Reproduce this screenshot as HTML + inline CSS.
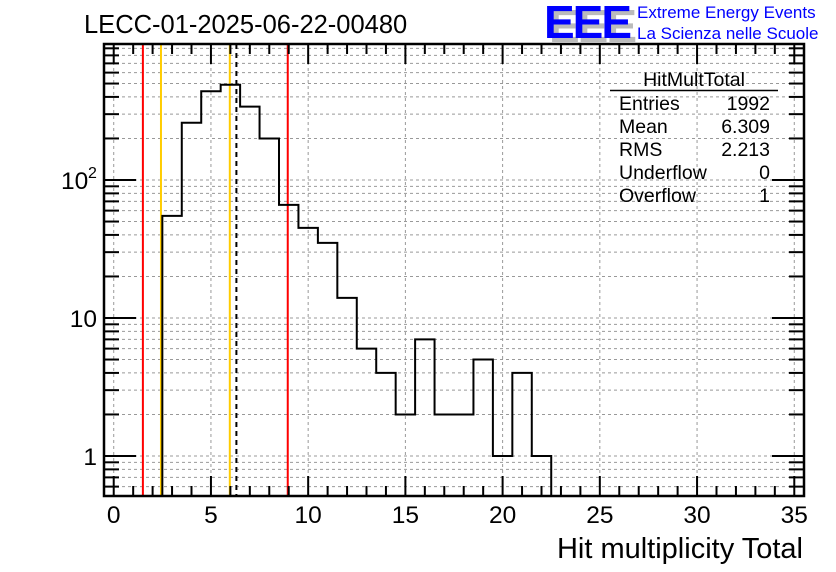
<!DOCTYPE html>
<html><head><meta charset="utf-8"><style>
body{margin:0;background:#fff;}
svg{display:block;font-family:"Liberation Sans",sans-serif;}
</style></head><body>
<svg id="c" width="836" height="572">
<g id="grid"></g>
<g id="lines"></g>
<g id="hist"></g>
<g id="axes"></g>
<text x="84" y="33" font-size="25.5">LECC-01-2025-06-22-00480</text>
<g>
<text x="549" y="42" font-size="46" font-weight="bold" fill="#bbb" letter-spacing="-2">EEE</text>
<text x="544" y="38" font-size="46" font-weight="bold" fill="#0000ff" letter-spacing="-2">EEE</text>
<text x="637" y="18" font-size="17" fill="#0000ff">Extreme Energy Events</text>
<text x="637" y="39" font-size="17" fill="#0000ff">La Scienza nelle Scuole</text>
</g>
<g font-size="19.5">
<text x="694" y="86" text-anchor="middle">HitMultTotal</text>
<line x1="610" y1="90.5" x2="778" y2="90.5" stroke="#000" stroke-width="1.5"/>
<text x="619" y="110">Entries</text><text x="770" y="110" text-anchor="end">1992</text>
<text x="619" y="133">Mean</text><text x="770" y="133" text-anchor="end">6.309</text>
<text x="619" y="156">RMS</text><text x="770" y="156" text-anchor="end">2.213</text>
<text x="619" y="179">Underflow</text><text x="770" y="179" text-anchor="end">0</text>
<text x="619" y="202">Overflow</text><text x="770" y="202" text-anchor="end">1</text>
</g>
<text x="803" y="558" font-size="29" text-anchor="end">Hit multiplicity Total</text>
</svg>
<script>
const binCenters=[3,4,5,6,7,8,9,10,11,12,13,14,15,16,17,18,19,20,21,22];
const binValues=[55,260,440,490,340,200,66,45,35,14,6,4,2,7,2,2,5,1,4,1];
const xTicks=[0,5,10,15,20,25,30,35];
const yTicks=[1,10,100];
const redLines=[1.5,8.95];
const orangeLines=[2.43,5.97];
const meanLine=[6.309];
const L=104,R=804,T=44,B=496;
const X0=-0.5,X1=35.5;
const Y1=456,DEC=138;
function xs(v){return L+(v-X0)/(X1-X0)*(R-L);}
function ys(v){return Y1-Math.log10(v)*DEC;}
const NS="http://www.w3.org/2000/svg";
function mk(p,t,a){const e=document.createElementNS(NS,t);for(const k in a)e.setAttribute(k,a[k]);p.appendChild(e);return e;}
const grid=document.getElementById('grid'),axes=document.getElementById('axes'),lines=document.getElementById('lines'),hist=document.getElementById('hist');
const g='stroke:#999;stroke-width:1;stroke-dasharray:3,3';
xTicks.forEach(v=>{const e=mk(grid,'line',{x1:xs(v),x2:xs(v),y1:T,y2:B,style:g});

});
for(let d=0.1;d<=100;d*=10){for(let m=1;m<=9;m++){const v=d*m;const y=ys(v);if(y<T||y>B)continue;
const e=mk(grid,'line',{x1:L,x2:R,y1:y,y2:y,style:g});


const major=(m===1);const len=major?32:15;
mk(axes,'line',{x1:L,x2:L+len,y1:y,y2:y,stroke:'#000','stroke-width':2});
mk(axes,'line',{x1:R,x2:R-len,y1:y,y2:y,stroke:'#000','stroke-width':2});}}
for(let v=0;v<=35;v++){const major=v%5===0;const len=major?20:10;const x=xs(v);
mk(axes,'line',{x1:x,x2:x,y1:B,y2:B-len,stroke:'#000','stroke-width':2});
mk(axes,'line',{x1:x,x2:x,y1:T,y2:T+len,stroke:'#000','stroke-width':2});}
xTicks.forEach(v=>{const t=mk(axes,'text',{x:xs(v),y:523,'font-size':24.5,'text-anchor':'middle'});t.textContent=v;

});
yTicks.forEach(v=>{const y=ys(v)+9;
if(v===100){
const t=mk(axes,'text',{x:61,y:y,'font-size':24.5});t.textContent='10';


const s=mk(axes,'text',{x:88,y:y-11,'font-size':16});s.textContent='2';


}else{const t=mk(axes,'text',{x:97,y:y,'font-size':24.5,'text-anchor':'end'});t.textContent=String(v);

}});
mk(axes,'rect',{x:L,y:T,width:R-L,height:B-T,fill:'none',stroke:'#000','stroke-width':2.5});
redLines.forEach(v=>{const e=mk(lines,'line',{x1:xs(v),x2:xs(v),y1:T,y2:B,stroke:'#f00','stroke-width':2});

});
orangeLines.forEach(v=>{const e=mk(lines,'line',{x1:xs(v),x2:xs(v),y1:T,y2:B,stroke:'#fc0','stroke-width':2});

});
meanLine.forEach(v=>{const e=mk(lines,'line',{x1:xs(v),x2:xs(v),y1:T,y2:B,stroke:'#000','stroke-width':2,'stroke-dasharray':'5,4'});

});
let d='';
binCenters.forEach((c,i)=>{const x0=xs(c-0.5),x1=xs(c+0.5),y=ys(binValues[i]);
if(i===0)d+=`M${x0},${B}`;d+=`L${x0},${y}L${x1},${y}`;});
d+=`L${xs(binCenters[binCenters.length-1]+0.5)},${B}`;
const p=mk(hist,'path',{d:d,fill:'none',stroke:'#000','stroke-width':2});


</script>
</body></html>
